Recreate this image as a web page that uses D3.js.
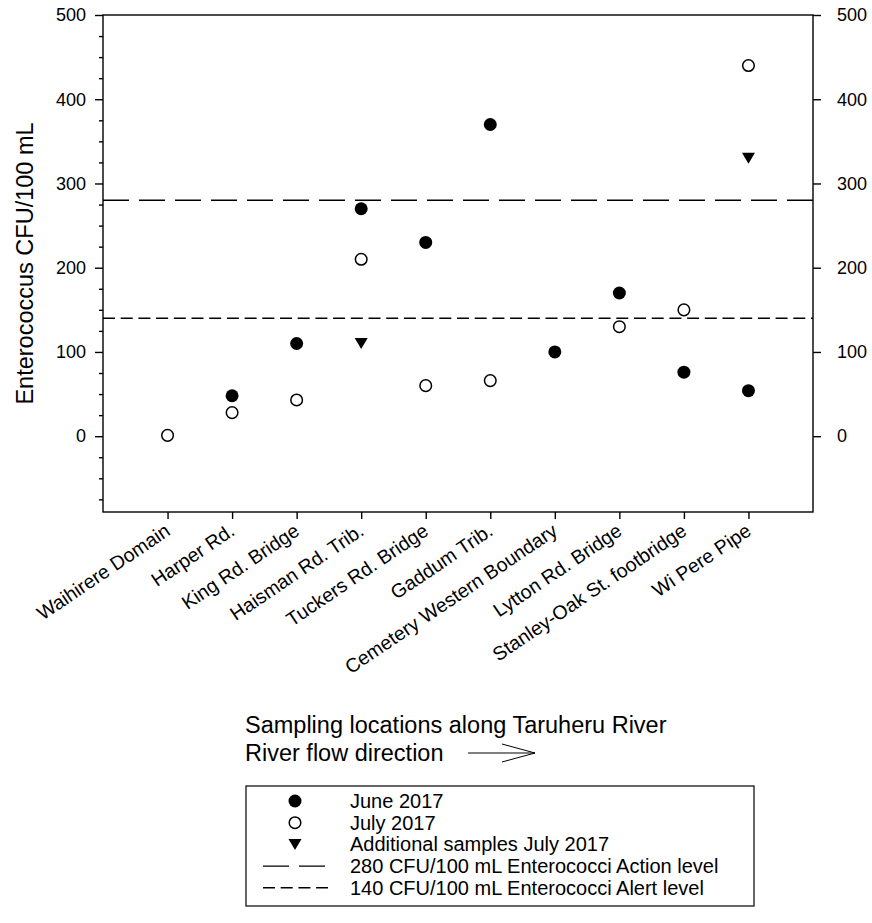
<!DOCTYPE html>
<html><head><meta charset="utf-8">
<script src="https://cdn.jsdelivr.net/npm/d3@7"></script>
<style>body{margin:0;background:#fff} text{font-family:"Liberation Sans",Arial,Helvetica,sans-serif;fill:#000}</style>
</head><body><svg id="c" width="872" height="923"></svg>
<script>
const categories = ["Waihirere Domain","Harper Rd.","King Rd. Bridge","Haisman Rd. Trib.","Tuckers Rd. Bridge","Gaddum Trib.","Cemetery Western Boundary","Lytton Rd. Bridge","Stanley-Oak St. footbridge","Wi Pere Pipe"];
const june2017 = [null,48,110,270,230,370,100,170,76,54];
const july2017 = [1,28,43,210,60,66,null,130,150,440];
const additionalJuly2017 = [null,null,null,110,null,null,null,null,null,330];
const actionLevel = 280;
const alertLevel = 140;
const yTicks = [0,100,200,300,400,500];
const yMinorTicks = [-75,-50,-25,25,50,75,125,150,175,225,250,275,325,350,375,425,450,475];
const legendLabels = ["June 2017","July 2017","Additional samples July 2017","280 CFU/100 mL Enterococci Action level","140 CFU/100 mL Enterococci Alert level"];

const svg = d3.select("#c");
const L=103,R=813,T=15,B=512;
const x = d3.scalePoint().domain(categories).range([L,R]).padding(1);
const y = d3.scaleLinear().domain([-90,500]).range([B,T]);
const sw = 1.4;

// reference lines
const lines = [{v:actionLevel,dash:"26,10"},{v:alertLevel,dash:"12,5.7"}];
svg.selectAll("line.ref").data(lines).join("line").attr("class","ref")
  .attr("x1",L).attr("x2",R).attr("y1",d=>y(d.v)).attr("y2",d=>y(d.v))
  .attr("stroke","#000").attr("stroke-width",sw).attr("stroke-dasharray",d=>d.dash);

// frame
svg.append("rect").attr("x",L).attr("y",T).attr("width",R-L).attr("height",B-T)
  .attr("fill","none").attr("stroke","#000").attr("stroke-width",sw);

// axes
const gl = svg.append("g").attr("transform",`translate(${L},0)`)
  .call(d3.axisLeft(y).tickValues(yTicks).tickSize(8).tickPadding(9));
const glm = svg.append("g").attr("transform",`translate(${L},0)`)
  .call(d3.axisLeft(y).tickValues(yMinorTicks).tickSize(4).tickFormat(""));
const gr = svg.append("g").attr("transform",`translate(${R},0)`)
  .call(d3.axisRight(y).tickValues(yTicks).tickSize(8).tickPadding(16));
const gb = svg.append("g").attr("transform",`translate(0,${B})`)
  .call(d3.axisBottom(x).tickSize(7).tickFormat(""));
[gl,glm,gr,gb].forEach(g=>{
  g.select(".domain").remove();
  g.selectAll(".tick line").attr("stroke","#000").attr("stroke-width",sw);
  g.selectAll(".tick text").attr("font-size",18).attr("font-family","Liberation Sans, Arial, sans-serif").attr("fill","#000");
});

// x tick labels rotated
svg.append("g").selectAll("text").data(categories).join("text")
  .attr("transform",d=>`translate(${x(d)+4},${B+22}) rotate(-34)`)
  .attr("text-anchor","end").attr("font-size",19.5).text(d=>d);

// axis titles
svg.append("text").attr("transform",`translate(33,${(T+B)/2}) rotate(-90)`)
  .attr("text-anchor","middle").attr("font-size",23.5).text("Enterococcus CFU/100 mL");
svg.append("text").attr("x",245).attr("y",733).attr("font-size",23.5).text("Sampling locations along Taruheru River");
svg.append("text").attr("x",245).attr("y",761).attr("font-size",23.5).text("River flow direction");
// flow arrow
svg.append("path").attr("d","M468,753 L535,753 M502,744 L535,753 L502,762")
  .attr("fill","none").attr("stroke","#000").attr("stroke-width",1);

// markers
const tri = (cx,cy)=>`M${cx-6.5},${cy-5.5} L${cx+6.5},${cy-5.5} L${cx},${cy+5.5} Z`;
const pts = (arr)=>categories.map((c,i)=>({c,v:arr[i]})).filter(d=>d.v!=null);
svg.append("g").selectAll("circle").data(pts(june2017)).join("circle")
  .attr("cx",d=>x(d.c)).attr("cy",d=>y(d.v)).attr("r",6.5).attr("fill","#000");
svg.append("g").selectAll("circle").data(pts(july2017)).join("circle")
  .attr("cx",d=>x(d.c)).attr("cy",d=>y(d.v)).attr("r",5.8).attr("fill","#fff").attr("stroke","#000").attr("stroke-width",1.5);
svg.append("g").selectAll("path").data(pts(additionalJuly2017)).join("path")
  .attr("d",d=>tri(x(d.c),y(d.v))).attr("fill","#000");

// legend
const lg = svg.append("g");
lg.append("rect").attr("x",246).attr("y",786).attr("width",508).attr("height",120)
  .attr("fill","none").attr("stroke","#000").attr("stroke-width",1.2);
const ry = i=>801+i*21.7;
lg.append("circle").attr("cx",295).attr("cy",ry(0)).attr("r",6.5).attr("fill","#000");
lg.append("circle").attr("cx",295).attr("cy",ry(1)).attr("r",5.8).attr("fill","#fff").attr("stroke","#000").attr("stroke-width",1.5);
lg.append("path").attr("d",tri(295,ry(2))).attr("fill","#000");
lg.append("line").attr("x1",263).attr("x2",325).attr("y1",ry(3)).attr("y2",ry(3)).attr("stroke","#000").attr("stroke-width",sw).attr("stroke-dasharray","26,10");
lg.append("line").attr("x1",263).attr("x2",328).attr("y1",ry(4)).attr("y2",ry(4)).attr("stroke","#000").attr("stroke-width",sw).attr("stroke-dasharray","12,5.7");
lg.selectAll("text").data(legendLabels).join("text")
  .attr("x",350).attr("y",(d,i)=>ry(i)).attr("dy","0.35em").attr("font-size",20).text(d=>d);
</script></body></html>
